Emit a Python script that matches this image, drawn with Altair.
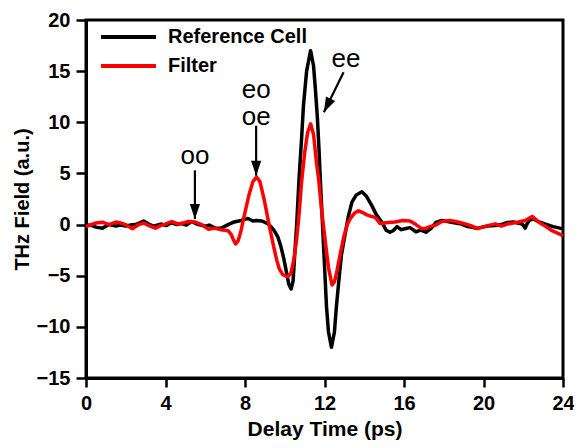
import math
import altair as alt
import pandas as pd

# ---------------- data ----------------
ref_t = [0.0, 0.25, 0.5, 0.83, 1.16, 1.5, 1.75, 1.99, 2.25, 2.5, 2.9, 3.16, 3.4, 3.8, 4.05,
         4.3, 4.55, 4.8, 5.05, 5.3, 5.65, 5.99, 6.2, 6.5, 6.8, 7.15, 7.4, 7.8, 8.15, 8.4,
         8.56, 8.85, 9.14, 9.3, 9.47, 9.65, 9.8, 9.95, 10.1, 10.2, 10.32, 10.42, 10.5, 10.6,
         10.72, 10.85, 10.94, 11.1, 11.3, 11.45, 11.55, 11.64, 11.72, 11.8, 11.9, 12.0, 12.1,
         12.2, 12.35, 12.5, 12.6, 12.72, 12.85, 13.05, 13.2, 13.38, 13.6, 13.88, 14.1, 14.38,
         14.6, 14.88, 15.1, 15.29, 15.45, 15.65, 15.85, 16.05, 16.3, 16.6, 16.85, 17.1, 17.35,
         17.6, 17.9, 18.2, 18.45, 18.9, 19.2, 19.5, 19.7, 20.2, 20.6, 20.9, 21.2, 21.5, 21.95,
         22.1, 22.2, 22.3, 22.5, 22.8, 23.2, 23.5, 23.85, 24.0]
ref_v = [-0.1, -0.05, -0.25, -0.35, 0.0, -0.15, -0.05, -0.15, -0.05, 0.0, 0.35, 0.05, -0.15, 0.05, -0.1,
         0.2, 0.0, 0.1, -0.05, 0.3, 0.0, -0.15, -0.05, -0.35, -0.35, 0.0, 0.22, 0.4, 0.6, 0.35,
         0.4, 0.35, 0.1, -0.2, -0.6, -1.2, -2.1, -3.3, -4.8, -5.8, -6.3, -5.5, -3.0, 0.0,
         4.5, 8.5, 11.6, 15.0, 17.0, 15.5, 13.0, 10.5, 7.5, 4.0, 0.0, -4.0, -8.0,
         -10.5, -12.0, -10.5, -8.0, -5.5, -3.0, -0.8, 0.8, 2.2, 2.9, 3.2, 2.8, 1.85,
         1.0, 0.25, -0.55, -0.75, -0.6, -0.2, -0.5, -0.4, -0.3, -0.7, -0.55, -0.75, -0.4,
         0.2, 0.4, 0.3, 0.2, 0.05, -0.2, -0.3, -0.35, -0.15, -0.1, 0.0, 0.2, 0.25, 0.05,
         -0.35, 0.1, 0.4, 0.55, 0.25, 0.0, -0.2, -0.35, -0.4]

fil_t = [0.0, 0.25, 0.5, 0.83, 1.16, 1.5, 1.75, 1.99, 2.33, 2.66, 2.9, 3.16, 3.49, 3.75, 3.99,
         4.3, 4.65, 4.9, 5.15, 5.5, 5.82, 6.15, 6.45, 6.8, 7.15, 7.3, 7.42, 7.53, 7.65, 7.8,
         8.0, 8.2, 8.4, 8.58, 8.75, 8.97, 9.1, 9.22, 9.35, 9.47, 9.6, 9.72, 9.9, 10.14, 10.3,
         10.45, 10.6, 10.72, 10.84, 11.0, 11.15, 11.3, 11.45, 11.6, 11.7, 11.85, 12.05, 12.2,
         12.38, 12.5, 12.63, 12.8, 12.97, 13.15, 13.3, 13.5, 13.71, 13.9, 14.13, 14.35, 14.55,
         14.8, 15.0, 15.2, 15.54, 15.95, 16.3, 16.6, 16.85, 17.05, 17.3, 17.6, 17.9, 18.3,
         18.6, 19.0, 19.37, 19.7, 20.2, 20.6, 20.9, 21.2, 21.7, 22.1, 22.45, 22.8, 23.1,
         23.45, 23.8, 24.0]
fil_v = [-0.2, 0.0, 0.15, 0.23, 0.0, 0.25, 0.15, 0.0, -0.4, 0.0, 0.15, -0.1, -0.35, -0.1, 0.05,
         0.3, 0.05, 0.15, 0.3, 0.25, 0.0, -0.45, -0.35, -0.5, -0.6, -0.95, -1.5, -1.9, -1.6, -0.6,
         1.2, 2.9, 4.2, 4.65, 4.2, 2.4, 1.1, -0.1, -1.3, -2.4, -3.5, -4.3, -4.9, -5.1, -4.8,
         -3.5, -1.4, 1.0, 4.0, 7.0, 9.0, 9.85, 8.8, 6.0, 4.5, 1.5, -1.8, -4.2,
         -5.9, -5.6, -4.5, -2.8, -1.2, 0.0, 0.6, 1.1, 1.35, 1.2, 0.95, 0.8, 0.7,
         0.1, 0.15, 0.2, 0.25, 0.4, 0.35, 0.0, -0.35, -0.4, -0.2, -0.05, 0.3, 0.4,
         0.3, 0.1, -0.1, -0.4, -0.1, 0.07, -0.15, 0.05, 0.23, 0.4, 0.8, 0.2, -0.15,
         -0.6, -0.9, -1.1]

series_names = ["Reference Cell", "Filter"]
series_colors = ["#000000", "#ff0000"]

x_ticks = [0, 2, 4, 6, 8, 10, 12, 14, 16, 18, 20, 22, 24]
y_ticks = [-15, -12.5, -10, -7.5, -5, -2.5, 0, 2.5, 5, 7.5, 10, 12.5, 15, 17.5, 20]

# annotations
label_text = ["oo", "eo", "oe", "ee"]
label_x = [5.48, 8.56, 8.56, 13.08]
label_y = [5.9, 12.35, 9.75, 15.45]

arrow_x_start = [5.48, 8.56, 12.96]
arrow_y_start = [5.3, 9.67, 14.9]
arrow_x_tip = [5.48, 8.56, 11.97]
arrow_y_tip = [0.55, 4.78, 10.98]

# ---------------- layout ----------------
W, H = 477, 358
X_DOM = [0, 24]
Y_DOM = [-15, 20]
FONT = "Liberation Sans"

# arrow-head rotation from the direction of each arrow in pixel space
px_x = W / (X_DOM[1] - X_DOM[0])
px_y = H / (Y_DOM[1] - Y_DOM[0])
arrow_angle = []
for xs, ys, xt, yt in zip(arrow_x_start, arrow_y_start, arrow_x_tip, arrow_y_tip):
    dx = (xt - xs) * px_x
    dy = (ys - yt) * px_y  # screen y points down
    ang = math.degrees(math.atan2(-dx, dy))
    arrow_angle.append(ang % 360)

lines_df = pd.concat([
    pd.DataFrame({"t": ref_t, "v": ref_v, "series": series_names[0]}),
    pd.DataFrame({"t": fil_t, "v": fil_v, "series": series_names[1]}),
], ignore_index=True)

labels_df = pd.DataFrame({"text": label_text, "x": label_x, "y": label_y})
arrows_df = pd.DataFrame({
    "xs": arrow_x_start, "ys": arrow_y_start,
    "xt": arrow_x_tip, "yt": arrow_y_tip, "ang": arrow_angle,
})

x_scale = alt.Scale(domain=X_DOM, nice=False, zero=False)
y_scale = alt.Scale(domain=Y_DOM, nice=False, zero=False)

x_axis = alt.Axis(
    values=x_ticks,
    labelExpr="datum.value % 4 === 0 ? datum.label : ''",
    title="Delay Time (ps)",
    titleFont=FONT, titleFontSize=21, titleFontWeight="bold", titleColor="black",
    titleX=W / 2, titleY=51, titleBaseline="middle", titleAlign="center",
    labelFont=FONT, labelFontSize=20, labelFontWeight="bold", labelColor="black",
    labelPadding=6, labelFlush=False, labelOverlap=False,
    tickSize={"condition": {"test": "datum.value % 4 === 0", "value": 9}, "value": 5},
    tickWidth=2.5, tickColor="black",
    domainColor="black", domainWidth=3, grid=False,
)
y_axis = alt.Axis(
    values=y_ticks,
    labelExpr="datum.value % 5 === 0 ? datum.label : ''",
    title="THz Field (a.u.)",
    titleFont=FONT, titleFontSize=20, titleFontWeight="bold", titleColor="black",
    titleX=-64, titleY=H / 2, titleBaseline="middle", titleAlign="center", titleAngle=270,
    labelFont=FONT, labelFontSize=20, labelFontWeight="bold", labelColor="black",
    labelPadding=6, labelFlush=False, labelOverlap=False,
    tickSize={"condition": {"test": "datum.value % 5 === 0", "value": 10}, "value": 5},
    tickWidth=2.5, tickColor="black",
    domainColor="black", domainWidth=3, grid=False,
)

lines = alt.Chart(lines_df).mark_line(strokeWidth=3.5, strokeJoin="round").encode(
    x=alt.X("t:Q", scale=x_scale, axis=x_axis),
    y=alt.Y("v:Q", scale=y_scale, axis=y_axis),
    color=alt.Color(
        "series:N",
        scale=alt.Scale(domain=series_names, range=series_colors),
        sort=series_names,
        legend=alt.Legend(
            title=None, orient="none", legendX=13, legendY=7,
            symbolType="stroke", symbolSize=3025, symbolStrokeWidth=4,
            labelFont=FONT, labelFontSize=20, labelFontWeight="bold", labelColor="black",
            labelOffset=10, clipHeight=20, rowPadding=9, padding=0,
        ),
    ),
    detail="series:N",
)

shafts = alt.Chart(arrows_df).mark_rule(color="black", strokeWidth=2.2).encode(
    x=alt.X("xs:Q", scale=x_scale),
    y=alt.Y("ys:Q", scale=y_scale),
    x2="xt:Q",
    y2="yt:Q",
)

heads = alt.Chart(arrows_df).mark_point(
    shape="M0,0L-0.34,-1L0.34,-1Z", filled=True, color="black", opacity=1, size=900,
    strokeWidth=0,
).encode(
    x=alt.X("xt:Q", scale=x_scale),
    y=alt.Y("yt:Q", scale=y_scale),
    angle=alt.Angle("ang:Q", scale=None),
)

texts = alt.Chart(labels_df).mark_text(
    font=FONT, fontSize=26, fontWeight="normal", color="black",
    align="center", baseline="alphabetic",
).encode(
    x=alt.X("x:Q", scale=x_scale),
    y=alt.Y("y:Q", scale=y_scale),
    text="text:N",
)

chart = alt.layer(lines, shafts, heads, texts).properties(
    width=W, height=H,
    autosize=alt.AutoSizeParams(type="none"),
    padding={"left": 78, "top": 12, "right": 11, "bottom": 62},
    background="white",
).configure_view(
    stroke="black", strokeWidth=3,
)

chart.save("out.html", embed_options={"renderer": "svg", "actions": False})
